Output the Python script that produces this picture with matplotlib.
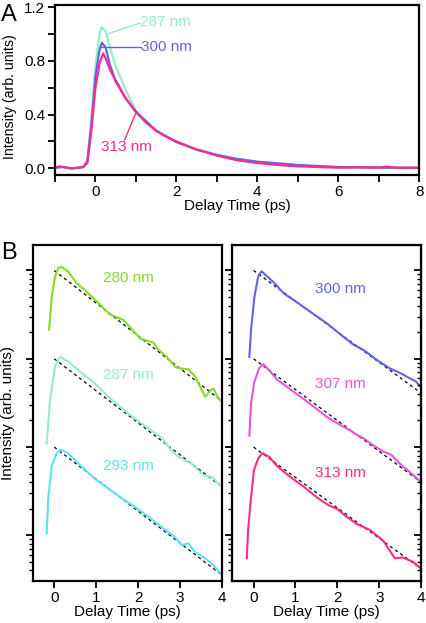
import matplotlib
matplotlib.use('Agg')
import matplotlib.pyplot as plt
import numpy as np

plt.rcParams.update({'font.family': 'Liberation Sans', 'font.size': 11})

# ---- panel A: transients (delay in ps, intensity)
t_287 = [-1.0, -0.8, -0.6, -0.4, -0.3, -0.2, -0.1, 0.0, 0.1, 0.15, 0.25, 0.35, 0.5, 0.75,
         1.0, 1.5, 2.0, 2.5, 3.0, 3.5, 4.0, 5.0, 6.0, 7.0, 8.0]
i_287 = [0.005, 0.01, 0.0, 0.005, 0.01, 0.06, 0.38, 0.76, 1.0, 1.05, 1.02, 0.91, 0.76, 0.58,
         0.43, 0.28, 0.20, 0.14, 0.10, 0.07, 0.047, 0.022, 0.008, 0.005, 0.005]
t_300 = [-1.0, -0.8, -0.6, -0.4, -0.3, -0.2, -0.1, 0.0, 0.1, 0.16, 0.25, 0.35, 0.5, 0.75,
         1.0, 1.5, 2.0, 2.5, 3.0, 3.5, 4.0, 5.0, 6.0, 7.0, 8.0]
i_300 = [0.005, 0.01, 0.0, 0.005, 0.01, 0.05, 0.32, 0.68, 0.88, 0.935, 0.90, 0.78, 0.645, 0.52,
         0.42, 0.28, 0.195, 0.14, 0.10, 0.07, 0.05, 0.025, 0.01, 0.005, 0.003]
t_313 = [-1.0, -0.9, -0.8, -0.6, -0.4, -0.3, -0.2, -0.1, 0.0, 0.1, 0.19, 0.25, 0.35, 0.45,
         0.55, 0.62, 0.75, 0.9, 1.0, 1.25, 1.5, 1.75, 2.0, 2.5, 3.0, 3.5, 4.0, 4.5, 5.0,
         5.5, 6.0, 6.5, 7.0, 7.2, 7.5, 8.0]
i_313 = [0.005, 0.015, 0.01, 0.0, 0.005, 0.01, 0.04, 0.28, 0.60, 0.78, 0.855, 0.82, 0.74, 0.68,
         0.63, 0.59, 0.52, 0.46, 0.42, 0.34, 0.28, 0.235, 0.20, 0.14, 0.095, 0.06, 0.04, 0.025,
         0.015, 0.01, 0.005, 0.008, 0.006, 0.012, 0.004, 0.005]

# ---- panel B: log10 intensity traces (offset by decades)
bt_280 = [-0.12, -0.06, 0.02, 0.10, 0.18, 0.33, 0.53, 0.77, 1.01, 1.33, 1.65, 2.05, 2.37,
          2.49, 2.69, 2.88, 3.0, 3.2, 3.36, 3.60, 3.74, 3.80, 3.92, 4.0]
bl_280 = [2.33, 2.70, 2.93, 3.03, 3.04, 2.99, 2.86, 2.76, 2.65, 2.50, 2.44, 2.23, 2.18,
          2.10, 2.02, 1.91, 1.89, 1.88, 1.80, 1.57, 1.65, 1.66, 1.55, 1.51]
bt_287 = [-0.18, -0.10, 0.02, 0.14, 0.33, 0.65, 0.97, 1.29, 1.61, 1.93, 2.25, 2.57, 2.80,
          2.96, 3.28, 3.56, 3.76, 4.0]
bl_287 = [1.04, 1.53, 1.91, 2.02, 1.97, 1.84, 1.72, 1.57, 1.44, 1.32, 1.21, 1.10, 0.96,
          0.89, 0.81, 0.68, 0.66, 0.55]
bt_293 = [-0.18, -0.14, -0.06, 0.06, 0.16, 0.33, 0.65, 0.97, 1.29, 1.61, 1.93, 2.25, 2.57,
          2.88, 3.04, 3.20, 3.36, 3.60, 3.80, 4.0]
bl_293 = [0.02, 0.43, 0.78, 0.93, 0.97, 0.93, 0.78, 0.64, 0.53, 0.42, 0.32, 0.21, 0.09,
          -0.02, -0.11, -0.09, -0.19, -0.26, -0.34, -0.45]
bt_300 = [-0.10, -0.06, 0.02, 0.11, 0.19, 0.33, 0.49, 0.72, 1.0, 1.36, 1.75, 2.14, 2.38,
          2.62, 2.93, 3.25, 3.49, 3.72, 3.88, 4.0]
bl_300 = [2.02, 2.33, 2.70, 2.93, 2.99, 2.93, 2.86, 2.74, 2.65, 2.53, 2.40, 2.25, 2.16,
          2.10, 1.99, 1.89, 1.84, 1.78, 1.74, 1.67]
bt_307 = [-0.10, -0.06, 0.01, 0.13, 0.23, 0.37, 0.57, 0.80, 1.12, 1.43, 1.75, 2.07, 2.30,
          2.42, 2.62, 2.85, 3.09, 3.29, 3.49, 3.72, 4.0]
bl_307 = [1.13, 1.49, 1.72, 1.89, 1.94, 1.87, 1.76, 1.68, 1.57, 1.46, 1.34, 1.25, 1.19,
          1.15, 1.10, 1.02, 0.95, 0.91, 0.81, 0.72, 0.60]
bt_313 = [-0.16, -0.13, -0.06, 0.01, 0.11, 0.21, 0.37, 0.57, 0.88, 1.2, 1.51, 1.79, 1.99,
          2.22, 2.46, 2.78, 3.09, 3.37, 3.56, 3.80, 4.0]
bl_313 = [-0.26, 0.06, 0.43, 0.74, 0.87, 0.93, 0.89, 0.78, 0.66, 0.55, 0.43, 0.34, 0.30,
          0.21, 0.13, 0.06, -0.06, -0.26, -0.25, -0.30, -0.38]

# exponential fits (dashed), endpoints in log10
fit_t = [0.0, 4.0]
fit_280 = [3.0, 1.52]
fit_287 = [2.0, 0.55]
fit_293 = [1.0, -0.45]
fit_300 = [3.0, 1.61]
fit_307 = [2.0, 0.60]
fit_313 = [1.0, -0.38]

c280 = '#8ad82a'
c287 = '#92eec8'
c293 = '#5ae4ec'
c300 = '#6262ea'
c307 = '#e855d8'
c313 = '#ff2a8a'

fig = plt.figure(figsize=(4.26, 6.23), dpi=100)

# ------------- A
ax = fig.add_axes([0.129, 0.719, 0.855, 0.273])
ax.plot(t_287, i_287, color=c287, lw=1.6)
ax.plot(t_300, i_300, color=c300, lw=1.6)
ax.plot(t_313, i_313, color=c313, lw=1.6)
ax.set_xlim(-1, 8)
ax.set_ylim(-0.05, 1.215)
ax.set_xticks([0, 2, 4, 6, 8])
ax.set_xticks([-1, 1, 3, 5, 7], minor=True)
ax.set_yticks([0.0, 0.4, 0.8, 1.2])
ax.set_yticks([0.2, 0.6, 1.0], minor=True)
ax.yaxis.set_major_formatter(plt.FormatStrFormatter('%.1f'))
ax.tick_params(which='major', length=5, width=1.3, pad=2)
ax.tick_params(which='minor', length=5, width=1.3)
for s in ax.spines.values():
    s.set_linewidth(1.6)
ax.set_xlabel('Delay Time (ps)', labelpad=0)
ax.set_ylabel('Intensity (arb. units)', labelpad=2, fontsize=10.2)
ax.yaxis.set_label_coords(-0.105, 0.46)

ax.plot([0.3, 1.1], [1.0, 1.08], color=c287, lw=1)
ax.text(1.1, 1.09, '287 nm', color=c287, va='center', ha='left')
ax.plot([0.11, 1.13], [0.90, 0.90], color=c300, lw=1)
ax.text(1.13, 0.90, '300 nm', color=c300, va='center', ha='left')
ax.plot([0.72, 1.01], [0.21, 0.42], color=c313, lw=1)
ax.text(0.15, 0.16, '313 nm', color=c313, va='center', ha='left')
fig.text(0.002, 0.994, 'A', fontsize=17, va='top')


# ------------- B
def panel_b(rect, curves, right_in):
    bx = fig.add_axes(rect)
    for t, l, f, c in curves:
        bx.plot(fit_t, 10 ** np.array(f), color='k', lw=0.9, ls=(0, (2.5, 2.5)))
        bx.plot(t, 10 ** np.array(l), color=c, lw=1.5)
    bx.set_yscale('log')
    bx.set_ylim(10 ** -0.52, 10 ** 3.29)
    bx.set_xlim(-0.51, 4.0)
    bx.set_xticks([0, 1, 2, 3, 4])
    bx.yaxis.set_major_locator(matplotlib.ticker.LogLocator(base=10, numticks=10))
    bx.yaxis.set_minor_locator(matplotlib.ticker.LogLocator(base=10, subs=np.arange(2, 10), numticks=10))
    bx.yaxis.set_major_formatter(matplotlib.ticker.NullFormatter())
    bx.yaxis.set_minor_formatter(matplotlib.ticker.NullFormatter())
    bx.tick_params(which='major', length=5, width=1.3, pad=2)
    bx.tick_params(which='minor', length=3, width=1.0)
    for s in bx.spines.values():
        s.set_linewidth(1.6)
    bx.set_xlabel('Delay Time (ps)', labelpad=0)
    if right_in:
        tw = bx.twinx()
        tw.set_yscale('log')
        tw.set_ylim(bx.get_ylim())
        tw.yaxis.set_major_locator(matplotlib.ticker.LogLocator(base=10, numticks=10))
        tw.yaxis.set_minor_locator(matplotlib.ticker.LogLocator(base=10, subs=np.arange(2, 10), numticks=10))
        tw.yaxis.set_major_formatter(matplotlib.ticker.NullFormatter())
        tw.yaxis.set_minor_formatter(matplotlib.ticker.NullFormatter())
        tw.tick_params(which='major', direction='in', length=5, width=1.3)
        tw.tick_params(which='minor', direction='in', length=3, width=1.0)
    return bx


bl = panel_b([0.077, 0.067, 0.444, 0.540],
             [(bt_280, bl_280, fit_280, c280), (bt_287, bl_287, fit_287, c287),
              (bt_293, bl_293, fit_293, c293)], False)
bl.set_ylabel('Intensity (arb. units)', labelpad=6)
bl.text(1.16, 10 ** 2.91, '280 nm', color=c280, va='center')
bl.text(1.16, 10 ** 1.82, '287 nm', color=c287, va='center')
bl.text(1.16, 10 ** 0.79, '293 nm', color=c293, va='center')

br = panel_b([0.545, 0.067, 0.444, 0.540],
             [(bt_300, bl_300, fit_300, c300), (bt_307, bl_307, fit_307, c307),
              (bt_313, bl_313, fit_313, c313)], True)
br.text(1.47, 10 ** 2.79, '300 nm', color=c300, va='center')
br.text(1.47, 10 ** 1.71, '307 nm', color=c307, va='center')
br.text(1.47, 10 ** 0.71, '313 nm', color=c313, va='center')
fig.text(0.003, 0.612, 'B', fontsize=17, va='top')

fig.savefig('out.png', dpi=100)
